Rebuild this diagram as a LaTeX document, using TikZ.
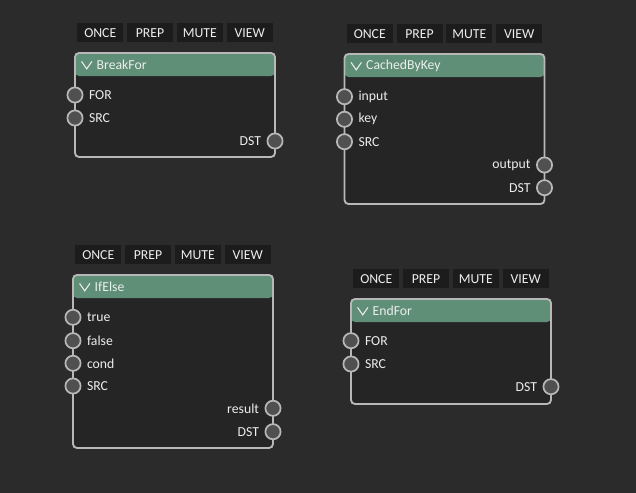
\documentclass[tikz,border=0pt]{standalone}
\usepackage{fontspec}
\setmainfont{Carlito}
\usetikzlibrary{fit}
\definecolor{bgc}{HTML}{2B2B2B}
\definecolor{bodyc}{HTML}{252525}
\definecolor{btnc}{HTML}{1C1C1C}
\definecolor{headc}{HTML}{5F8F76}
\definecolor{edgec}{HTML}{B8B8B8}
\definecolor{portc}{HTML}{505050}
\definecolor{txtc}{HTML}{EDEDED}
\tikzset{
  btn/.style={fill=btnc, text=txtc, inner sep=0pt, minimum width=34.5pt, minimum height=14.25pt, font=\fontsize{10.3}{12}\selectfont, anchor=north west},
  panel/.style={draw=edgec, line width=1.4pt, fill=bodyc, rounded corners=3pt, inner sep=0pt,
    path picture={\fill[headc] (path picture bounding box.north west) rectangle ([yshift=-17.25pt]path picture bounding box.north east);}},
  port/.style={circle, draw=edgec, line width=1.3pt, fill=portc, minimum size=11.4pt, inner sep=0pt},
  lbl/.style={text=txtc, inner sep=0pt, font=\fontsize{10.3}{12}\selectfont},
  chev/.style={draw=txtc, line width=0.8pt}
}
% #1 id, #2 left, #3 top, #4 bottom, #5 title
\newcommand\ngpanel[5]{%
  \foreach \i/\t in {0/ONCE,1/PREP,2/MUTE,3/VIEW} {
    \node[btn] (#1-b\i) at ({#2+2+\i*49.8},{#3-29.8}) {\t};
  }
  \node[panel, fit={(#2,#3) ({#2+200},#4)}] (#1) {};
  \draw[chev] ([xshift=5.6pt,yshift=-7pt]#1.north west) -- ++(3.9pt,-5.6pt) -- ++(3.9pt,5.6pt);
  \node[lbl, anchor=west] (#1-title) at ([xshift=16.8pt,yshift=-9.9pt]#1.north west) {#5};
}
% #1 id, #2 port name, #3 x, #4 y, #5 text
\newcommand\ngin[5]{%
  \node[port] (#1-#2) at (#3,#4) {};
  \node[lbl, anchor=west] (#1-#2-t) at ([xshift=10.3pt]#1-#2.center) {#5};
}
\newcommand\ngout[5]{%
  \node[port] (#1-#2) at (#3,#4) {};
  \node[lbl, anchor=east] (#1-#2-t) at ([xshift=-10.3pt]#1-#2.center) {#5};
}
\begin{document}
\begin{tikzpicture}[x=0.75pt,y=-0.75pt]
\useasboundingbox[fill=bgc] (0,0) rectangle (636,493);

% BreakFor
\ngpanel{bf}{75}{53}{157}{BreakFor}
\ngin{bf}{for}{75}{95}{FOR}
\ngin{bf}{src}{75}{118}{SRC}
\ngout{bf}{dst}{275}{141}{DST}

% CachedByKey
\ngpanel{cb}{344.5}{54}{204}{CachedByKey}
\ngin{cb}{input}{344.5}{96.7}{input}
\ngin{cb}{key}{344.5}{119.3}{key}
\ngin{cb}{src}{344.5}{141.7}{SRC}
\ngout{cb}{output}{544.5}{165}{output}
\ngout{cb}{dst}{544.5}{187.7}{DST}

% IfElse
\ngpanel{ie}{73}{275}{448}{IfElse}
\ngin{ie}{true}{73}{317.3}{true}
\ngin{ie}{false}{73}{340.7}{false}
\ngin{ie}{cond}{73}{363.3}{cond}
\ngin{ie}{src}{73}{386}{SRC}
\ngout{ie}{result}{273}{408.3}{result}
\ngout{ie}{dst}{273}{431.7}{DST}

% EndFor
\ngpanel{ef}{351}{299}{404}{EndFor}
\ngin{ef}{for}{351}{340.7}{FOR}
\ngin{ef}{src}{351}{364}{SRC}
\ngout{ef}{dst}{551}{386.7}{DST}
\end{tikzpicture}
\end{document}
